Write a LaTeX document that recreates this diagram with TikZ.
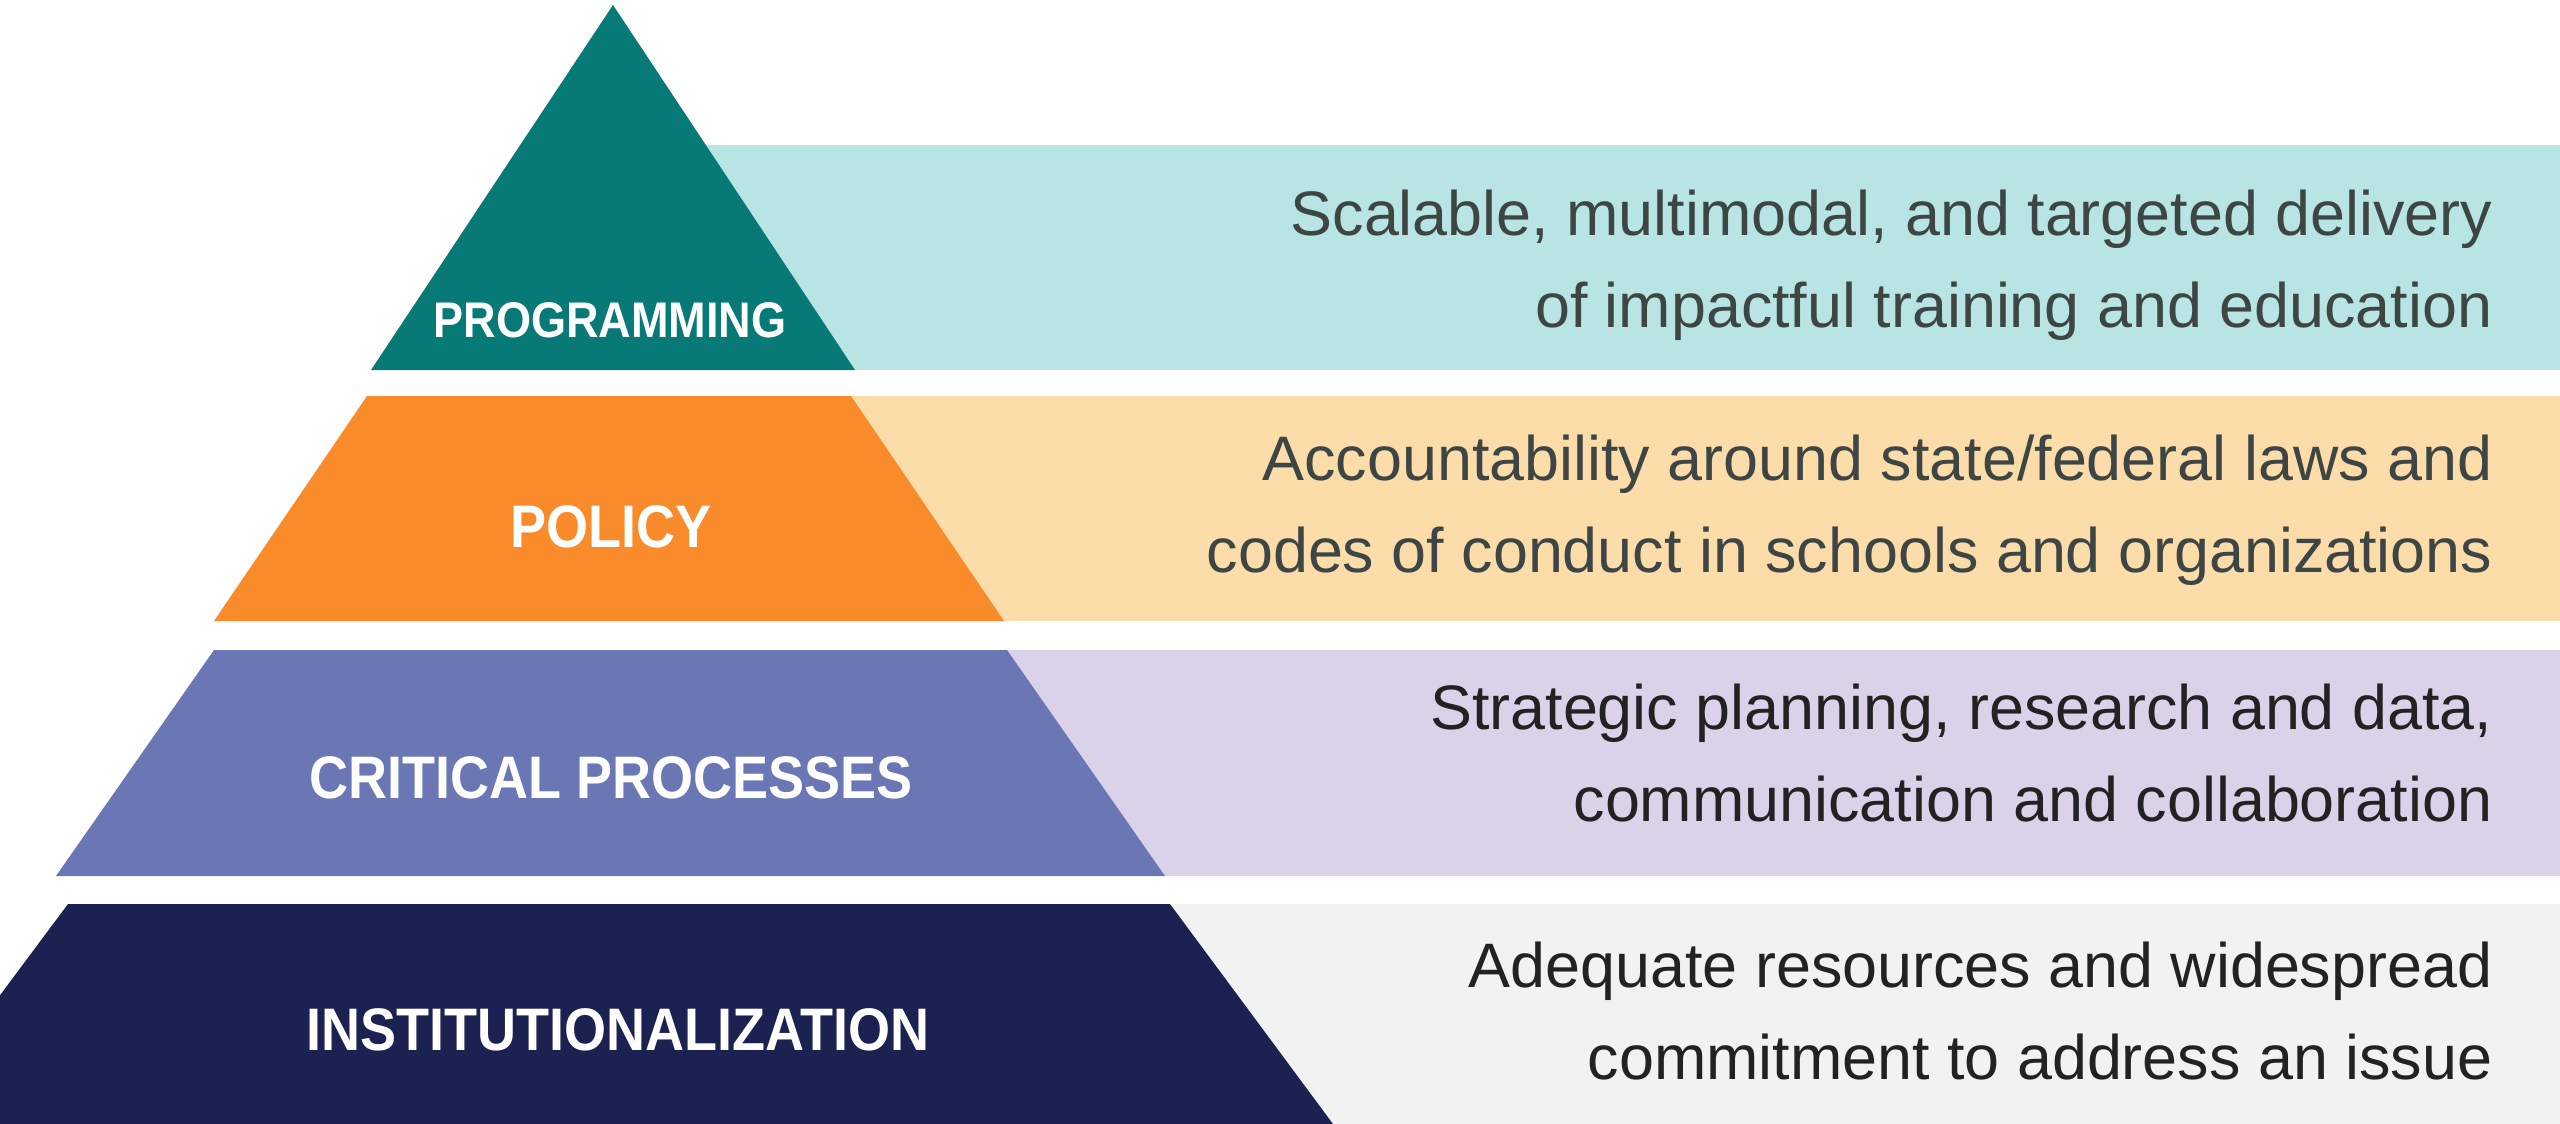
\documentclass[tikz,border=0pt]{standalone}
\usepackage{fontspec}
\setmainfont{Liberation Sans}
\newfontfamily\tierfont[FakeStretch=0.9]{Liberation Sans}
\usepackage{tikz}

\definecolor{progdark}{HTML}{077A78}
\definecolor{proglight}{HTML}{B8E4E4}
\definecolor{policydark}{HTML}{F98B2B}
\definecolor{policylight}{HTML}{FCDCA9}
\definecolor{critdark}{HTML}{6A77B4}
\definecolor{critlight}{HTML}{D9D2E8}
\definecolor{instdark}{HTML}{1B2150}
\definecolor{instlight}{HTML}{F2F2F2}
\definecolor{slatetext}{HTML}{3D4645}
\definecolor{inktext}{HTML}{222222}

\begin{document}
\begin{tikzpicture}[x=0.01cm, y=-0.01cm,
    tier/.style={text=white, inner sep=0pt, anchor=base, font=\tierfont\bfseries\fontsize{17.07}{20}\selectfont},
    note/.style={align=right, inner sep=0pt, anchor=base east, font=\fontsize{17.87}{26.16}\selectfont}]
    \useasboundingbox (0,0) rectangle (2560,1124);
    \clip (0,0) rectangle (2560,1124);
    % bands behind the pyramid
    \fill[proglight] (613,145) rectangle (2560,370);
    \fill[policylight] (609,396) rectangle (2560,621);
    \fill[critlight] (610,650) rectangle (2560,876);
    \fill[instlight] (619,904) rectangle (2560,1124);
    % pyramid
    \fill[progdark] (613,5) -- (855,370) -- (371,370) -- cycle;
    \fill[policydark] (367,396) -- (851,396) -- (1004,621) -- (214,621) -- cycle;
    \fill[critdark] (214,650) -- (1007,650) -- (1165,876) -- (56,876) -- cycle;
    \fill[instdark] (68,904) -- (1170,904) -- (1333,1124) -- (-96,1124) -- cycle;
    % tier names
    \node[tier, font=\tierfont\bfseries\fontsize{14.23}{17}\selectfont] (prog) at (610,337) {PROGRAMMING};
    \node[tier] (policy) at (611,547) {POLICY};
    \node[tier] (crit) at (611,798) {CRITICAL PROCESSES};
    \node[tier] (inst) at (618,1050) {INSTITUTIONALIZATION};
    % descriptions (base = last line)
    \node[note, text=slatetext] (progtext) at (2493,327) {Scalable, multimodal, and targeted delivery\\of impactful training and education};
    \node[note, text=slatetext] (policytext) at (2493,572) {Accountability around state/federal laws and\\codes of conduct in schools and organizations};
    \node[note, text=inktext] (crittext) at (2493,821) {Strategic planning, research and data,\\communication and collaboration};
    \node[note, text=inktext] (insttext) at (2493,1079) {Adequate resources and widespread\\commitment to address an issue};
\end{tikzpicture}
\end{document}
